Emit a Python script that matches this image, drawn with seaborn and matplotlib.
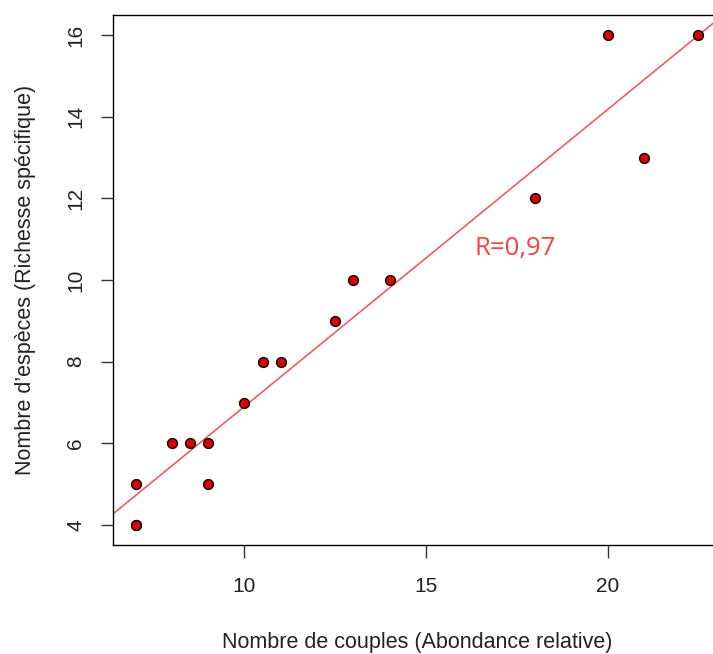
import matplotlib
matplotlib.use("Agg")
import matplotlib.pyplot as plt
import seaborn as sns
import pandas as pd

couples = [7, 7, 7, 8, 8.5, 9, 9, 10, 10.5, 11, 12.5, 13, 14, 18, 20, 21, 22.5]
especes = [4, 4, 5, 6, 6, 6, 5, 7, 8, 8, 9, 10, 10, 12, 16, 13, 16]
x_ticks = [10, 15, 20]
y_ticks = [4, 6, 8, 10, 12, 14, 16]
r_label = "R=0,97"

df = pd.DataFrame({"couples": couples, "especes": especes})

sns.set_style("white")
plt.rcParams["font.family"] = ["Liberation Sans", "DejaVu Sans"]

W, H = 713, 654
fig = plt.figure(figsize=(W / 100, H / 100), dpi=100)
ax = fig.add_axes([113 / W, (H - 544.6) / H, (721 - 113) / W, (544.6 - 15.4) / H])

xr = max(couples) - min(couples)
yr = max(especes) - min(especes)
xlim = (min(couples) - 0.04 * xr, max(couples) + 0.04 * xr)
ylim = (min(especes) - 0.04 * yr, max(especes) + 0.04 * yr)
ax.set_xlim(*xlim)
ax.set_ylim(*ylim)

sns.regplot(data=df, x="couples", y="especes", ax=ax, ci=None, truncate=False,
            scatter_kws=dict(s=50, facecolor="#e00000", edgecolor="black", linewidths=1, alpha=1, zorder=3),
            line_kws=dict(color="#ff4d4d", lw=1.1, zorder=2))

ax.set_xlim(*xlim)
ax.set_ylim(*ylim)
ax.set_xticks(x_ticks)
ax.set_yticks(y_ticks)
ax.tick_params(axis="both", which="major", direction="out", length=9, width=1,
               color="#333333", labelsize=15, labelcolor="#222222", bottom=True, left=True)
ax.tick_params(axis="x", pad=14)
ax.tick_params(axis="y", pad=11)
for lab in ax.get_yticklabels():
    lab.set_rotation(90)
    lab.set_va("center")
for s in ax.spines.values():
    s.set_color("black")
    s.set_linewidth(1)

ax.set_xlabel("Nombre de couples (Abondance relative)", fontsize=15.5, labelpad=26, color="#222222")
ax.set_ylabel("Nombre d\u2019espèces (Richesse spécifique)", fontsize=15.5, labelpad=22, color="#222222")

ax.text(16.34, 10.78, r_label, color="#ff4040", fontsize=18.5,
        family=["Open Sans", "DejaVu Sans"], ha="left", va="center")

fig.savefig("out.png", dpi=100)
